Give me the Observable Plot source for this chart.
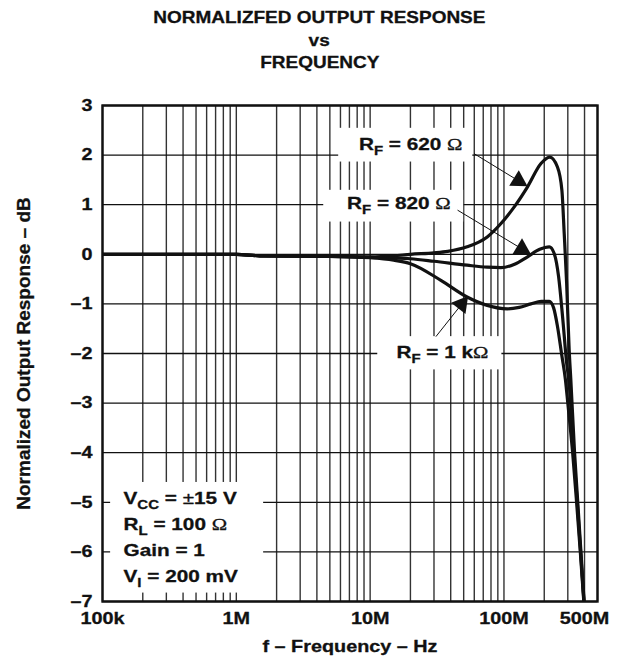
<!DOCTYPE html>
<html><head><meta charset="utf-8">
<script src="https://cdn.jsdelivr.net/npm/d3@7"></script>
<script src="https://cdn.jsdelivr.net/npm/@observablehq/plot@0.6"></script>
<style>
body{margin:0;background:#fff;font-family:"Liberation Sans",Arial,sans-serif;}
#title{height:80px;box-sizing:border-box;padding-top:6px;text-align:center;font-weight:bold;font-size:16.5px;line-height:22.5px;color:#111;-webkit-text-stroke:0.3px #111}
#title span{display:inline-block;transform:scaleX(1.15)}
</style></head><body>
<div id="title"><span>NORMALIZFED OUTPUT RESPONSE</span><br><span>vs</span><br><span>FREQUENCY</span></div>
<div id="chart"></div>
<script>
// ---- data ----
const freqTicks = [1e5, 1e6, 1e7, 1e8, 5e8];
const freqTickLabels = ["100k", "1M", "10M", "100M", "500M"];
const dbTicks = [-7, -6, -5, -4, -3, -2, -1, 0, 1, 2, 3];

const seriesNames = ["620", "820", "1k"];
const freq620 = [1e5, 1e6, 1.5e6, 5e6, 1e7, 1.5e7, 2e7, 3e7, 3.8e7, 5.3e7, 7.5e7, 9.5e7, 1.19e8, 1.5e8, 1.89e8, 2.2e8, 2.51e8, 2.71e8, 2.82e8, 2.94e8, 3.07e8, 3.16e8, 3.37e8, 3.56e8, 3.76e8, 3.97e8];
const db620   = [0, 0, -0.03, -0.04, -0.05, -0.03, 0, 0.03, 0.06, 0.15, 0.35, 0.62, 0.95, 1.36, 1.83, 1.96, 1.76, 1.29, 0.42, -0.58, -1.92, -2.53, -4, -5, -6, -7];
const freq820 = [1e5, 1e6, 1.5e6, 5e6, 1e7, 2e7, 3e7, 5.3e7, 7.5e7, 9.5e7, 1.2e8, 1.5e8, 1.85e8, 2.18e8, 2.37e8, 2.56e8, 2.74e8, 2.94e8, 3.07e8, 3.32e8, 3.53e8, 3.74e8, 3.96e8];
const db820   = [0, 0, -0.03, -0.04, -0.06, -0.09, -0.14, -0.22, -0.26, -0.27, -0.2, -0.05, 0.1, 0.15, 0.02, -0.45, -1.25, -2.19, -2.6, -4, -5, -6, -7];
const freq1k  = [1e5, 1e6, 1.5e6, 5e6, 1e7, 1.5e7, 2e7, 3.4e7, 5.3e7, 7.5e7, 1.06e8, 1.3e8, 1.59e8, 1.9e8, 2.18e8, 2.35e8, 2.51e8, 2.71e8, 2.88e8, 3.0e8, 3.26e8, 3.49e8, 3.72e8, 3.95e8];
const db1k    = [0, 0, -0.03, -0.04, -0.07, -0.12, -0.19, -0.53, -0.86, -1.03, -1.1, -1.07, -1.0, -0.95, -0.95, -1.08, -1.45, -2.05, -2.53, -3, -4, -5, -6, -7];

// annotations (data units)
const labelText = ["R_{F} = 620 Ω", "R_{F} = 820 Ω", "R_{F} = 1 kΩ"];
const labelFreq = [20.1e6, 16.4e6, 34.7e6];
const labelDb = [2.22, 1.03, -1.97];
const arrowStartFreq = [59.8e6, 45e6, 31e6];
const arrowStartDb = [2.03, 0.89, -1.66];
const arrowTipFreq = [150e6, 159e6, 54e6];
const arrowTipDb = [1.37, 0.0, -0.84];

const condText = ["V_{CC} = ±15 V", "R_{L} = 100 Ω", "Gain = 1", "V_{I} = 200 mV"];
const condFreq = 1.436e5;
const condDb = [-4.92, -5.45, -5.97, -6.49];

// white label boxes hiding the grid
const boxF1 = [5.82e6, 4.5e6, 11.4e6, 1.15e5];
const boxF2 = [58.5e6, 50e6, 96.5e6, 1.6e6];
const boxDb1 = [2.54, 1.29, -1.66, -4.6];
const boxDb2 = [1.86, 0.65, -2.33, -6.83];

// ---- build ----
const W = 639, H = 586, ML = 102, MR = 42, MT = 25, MB = 65;
const curves = [
  ...freq620.map((f, i) => ({rf: seriesNames[0], f, db: db620[i]})),
  ...freq820.map((f, i) => ({rf: seriesNames[1], f, db: db820[i]})),
  ...freq1k.map((f, i) => ({rf: seriesNames[2], f, db: db1k[i]}))
];
const gridFreqs = [];
for (let dec = 1e5; dec <= 1e8; dec *= 10)
  for (let m = 1; m <= 9; m++) if (m * dec <= 5e8) gridFreqs.push(m * dec);

const xs = d3.scaleLog([1e5, 5e8], [ML, W - MR]);
const ys = d3.scaleLinear([-7, 3], [H - MB, MT]);
const headR = 6.8;
const headH = 3 * Math.sqrt(Math.PI * headR * headR / (Math.sqrt(3) * 3));
const arrows = labelText.map((_, i) => {
  const sx = xs(arrowStartFreq[i]), sy = ys(arrowStartDb[i]);
  const tx = xs(arrowTipFreq[i]), ty = ys(arrowTipDb[i]);
  const len = Math.hypot(tx - sx, ty - sy), ux = (tx - sx) / len, uy = (ty - sy) / len;
  const back = headH * 2 / 3;
  return {
    f1: arrowStartFreq[i], d1: arrowStartDb[i],
    cf: xs.invert(tx - ux * back), cd: ys.invert(ty - uy * back),
    rot: Math.atan2(ux, -uy) * 180 / Math.PI
  };
});
const boxes = boxF1.map((_, i) => ({x1: boxF1[i], x2: boxF2[i], y1: boxDb1[i], y2: boxDb2[i]}));

const ink = "#111";
const txt = {fontWeight: "bold", fill: ink, stroke: ink, strokeWidth: 0.3};
const plot = Plot.plot({
  width: W, height: H, marginLeft: ML, marginRight: MR, marginTop: MT, marginBottom: MB,
  x: {type: "log", domain: [1e5, 5e8], axis: null},
  y: {domain: [-7, 3], axis: null},
  style: {fontFamily: "'Liberation Sans', Arial, sans-serif", color: ink, background: "#fff"},
  marks: [
    Plot.ruleX(gridFreqs, {x: d => d, stroke: "#333", strokeWidth: 1.4}),
    Plot.ruleY(dbTicks, {y: d => d, stroke: ink, strokeWidth: 1.3}),
    Plot.rect(boxes, {x1: "x1", x2: "x2", y1: "y1", y2: "y2", fill: "#fff"}),
    Plot.line(curves, {x: "f", y: "db", z: "rf", stroke: ink, strokeWidth: 3.2, curve: "monotone-x", clip: true, strokeLinejoin: "round"}),
    Plot.link(arrows, {x1: "f1", y1: "d1", x2: "cf", y2: "cd", stroke: ink, strokeWidth: 1}),
    Plot.dot(arrows, {x: "cf", y: "cd", symbol: "triangle", r: headR, rotate: "rot", fill: ink, stroke: "none"}),
    Plot.text(labelText, {x: labelFreq, y: labelDb, text: d => d, fontSize: 17.3, ...txt}),
    Plot.text(condText, {x: condText.map(() => condFreq), y: condDb, text: d => d, textAnchor: "start", fontSize: 17.3, ...txt}),
    Plot.frame({stroke: ink, strokeWidth: 2.4}),
    Plot.text(freqTicks.slice(0, 4), {x: d => d, text: (d, i) => freqTickLabels[i], frameAnchor: "bottom", dy: 22, fontSize: 16.5, ...txt}),
    Plot.text(freqTicks.slice(4), {x: d => d, text: (d, i) => freqTickLabels[4 + i], frameAnchor: "bottom", dy: 22, dx: -13, fontSize: 16.5, ...txt}),
    Plot.text(dbTicks, {y: d => d, text: d => d < 0 ? "–" + Math.abs(d) : String(d), frameAnchor: "left", textAnchor: "end", dx: -10, fontSize: 16.5, ...txt}),
    Plot.text(["f – Frequency – Hz"], {text: d => d, frameAnchor: "bottom", textAnchor: "middle", dy: 50, fontSize: 16.5, ...txt}),
    Plot.text(["Normalized Output Response – dB"], {text: d => d, frameAnchor: "left", textAnchor: "middle", dx: -79, rotate: -90, fontSize: 19, ...txt})
  ]
});
document.getElementById("chart").append(plot);

// rich text: subscripts, symbol glyphs; horizontal stretch like the reference
const NS = "http://www.w3.org/2000/svg";
function richify(t) {
  const s = t.textContent;
  if (!/_\{|Ω|±/.test(s)) return;
  const fs = parseFloat(getComputedStyle(t).fontSize) || 16;
  const parts = s.split(/(_\{[^}]*\}|Ω|±)/).filter(p => p !== "");
  while (t.firstChild) t.removeChild(t.firstChild);
  let shifted = false;
  for (const p of parts) {
    const ts = document.createElementNS(NS, "tspan");
    if (p.startsWith("_{")) {
      ts.textContent = p.slice(2, -1);
      ts.setAttribute("font-size", (fs * 0.72).toFixed(1));
      ts.setAttribute("dy", (fs * 0.3).toFixed(1));
      shifted = true;
    } else {
      ts.textContent = p;
      if (shifted) { ts.setAttribute("dy", (-fs * 0.3).toFixed(1)); shifted = false; }
      if (p === "Ω") { ts.setAttribute("font-weight", "normal"); ts.setAttribute("font-family", "'Liberation Serif', serif"); }
      if (p === "±") ts.setAttribute("font-weight", "normal");
    }
    t.appendChild(ts);
  }
}
plot.querySelectorAll("text").forEach(t => {
  richify(t);
  if (t.textContent.startsWith("Normalized")) return;
  const L = t.getComputedTextLength();
  t.setAttribute("textLength", (L * 1.2).toFixed(1));
  t.setAttribute("lengthAdjust", "spacingAndGlyphs");
});
</script>
</body></html>
